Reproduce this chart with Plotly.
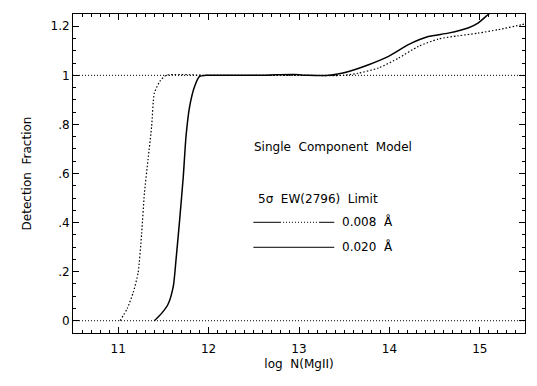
import plotly.graph_objects as go

# 0.020 Å limit (solid)
x_020 = [11.40, 11.48, 11.55, 11.61, 11.64, 11.68, 11.72, 11.75, 11.79, 11.845, 11.90, 11.97,
         12.5, 12.75, 12.95, 13.1, 13.33, 13.55, 13.77, 13.99, 14.21, 14.43, 14.65, 14.87,
         14.98, 15.09, 15.2]
y_020 = [0.0, 0.03, 0.066, 0.141, 0.25, 0.412, 0.588, 0.751, 0.873, 0.955, 0.996, 1.0,
         1.0, 1.002, 1.003, 1.0, 1.0, 1.016, 1.043, 1.077, 1.125, 1.158, 1.172, 1.193,
         1.213, 1.247, 1.28]

# 0.008 Å limit (dotted)
x_008 = [11.02, 11.10, 11.165, 11.22, 11.26, 11.29, 11.33, 11.37, 11.40, 11.46, 11.53,
         12.0, 13.0, 13.5, 13.66, 13.88, 14.10, 14.32, 14.54, 14.76, 14.98, 15.20, 15.46, 15.5]
y_008 = [0.0, 0.05, 0.114, 0.195, 0.358, 0.52, 0.657, 0.792, 0.928, 0.975, 1.0,
         1.0, 1.0, 1.0, 1.009, 1.03, 1.07, 1.118, 1.148, 1.161, 1.172, 1.186, 1.206, 1.21]

x_ticks = [11, 12, 13, 14, 15]
y_ticks = [0, 0.2, 0.4, 0.6, 0.8, 1.0, 1.2]
y_ticktext = ["0", ".2", ".4", ".6", ".8", "1", "1.2"]

FONT = "DejaVu Sans, Liberation Sans, sans-serif"
FS = 12

fig = go.Figure()

# reference lines at 0 and 1
for yv in (0, 1):
    fig.add_trace(go.Scatter(x=[10.5, 15.5], y=[yv, yv], mode="lines",
                             line=dict(color="black", width=1, dash="1px,2px"),
                             showlegend=False, hoverinfo="skip"))

fig.add_trace(go.Scatter(x=x_008, y=y_008, mode="lines", name="0.008 Å",
                         line=dict(color="black", width=1.2, dash="1.5px,2px",
                                   shape="spline", smoothing=0.6),
                         showlegend=False))
fig.add_trace(go.Scatter(x=x_020, y=y_020, mode="lines", name="0.020 Å",
                         line=dict(color="black", width=1.5, shape="spline", smoothing=0.6),
                         showlegend=False))

axis_common = dict(showline=True, linecolor="black", linewidth=1, mirror="ticks",
                   ticks="inside", ticklen=6, tickwidth=1, tickcolor="black",
                   showgrid=False, zeroline=False, automargin=False,
                   tickfont=dict(family=FONT, size=FS, color="black"))

fig.update_xaxes(range=[10.5, 15.5], tickvals=x_ticks, ticklabelstandoff=5,
                 minor=dict(ticks="inside", ticklen=3, dtick=0.1, tick0=10.5,
                            tickcolor="black", showgrid=False),
                 title=dict(text="log  N(MgII)", standoff=4,
                            font=dict(family=FONT, size=FS, color="black")),
                 **axis_common)
fig.update_yaxes(range=[-0.05, 1.25], tickvals=y_ticks, ticktext=y_ticktext,
                 minor=dict(ticks="inside", ticklen=3, dtick=0.05, tick0=0,
                            tickcolor="black", showgrid=False),
                 title=dict(text="Detection  Fraction", standoff=16,
                            font=dict(family=FONT, size=FS, color="black")),
                 **axis_common)

# legend-like annotation block
ann_font = dict(family=FONT, size=FS, color="black")
fig.add_annotation(x=0.395, y=0.583, xref="paper", yref="paper", xanchor="left",
                   yanchor="middle", text="Single  Component  Model", showarrow=False,
                   font=ann_font)
fig.add_annotation(x=0.405, y=0.42, xref="paper", yref="paper", xanchor="left",
                   yanchor="middle", text="5σ  EW(2796)  Limit", showarrow=False,
                   font=ann_font)
fig.add_annotation(x=0.591, y=0.348, xref="paper", yref="paper", xanchor="left",
                   yanchor="middle", text="0.008  Å", showarrow=False, font=ann_font)
fig.add_annotation(x=0.591, y=0.27, xref="paper", yref="paper", xanchor="left",
                   yanchor="middle", text="0.020  Å", showarrow=False, font=ann_font)

# legend line samples
ly1, ly2 = 0.347, 0.2687
fig.add_shape(type="line", xref="paper", yref="paper", x0=0.399, x1=0.458, y0=ly1, y1=ly1,
              line=dict(color="black", width=1))
fig.add_shape(type="line", xref="paper", yref="paper", x0=0.458, x1=0.5465, y0=ly1, y1=ly1,
              line=dict(color="black", width=1, dash="1px,2px"))
fig.add_shape(type="line", xref="paper", yref="paper", x0=0.5465, x1=0.578, y0=ly1, y1=ly1,
              line=dict(color="black", width=1))
fig.add_shape(type="line", xref="paper", yref="paper", x0=0.399, x1=0.578, y0=ly2, y1=ly2,
              line=dict(color="black", width=1))

# page body has an 8px default margin; compensate so the plot lands where the reference has it
fig.update_layout(width=529, height=378, margin=dict(l=65, r=12, t=6, b=53),
                  paper_bgcolor="white", plot_bgcolor="white", showlegend=False,
                  font=dict(family=FONT, size=FS, color="black"))

fig.write_html("out.html")
